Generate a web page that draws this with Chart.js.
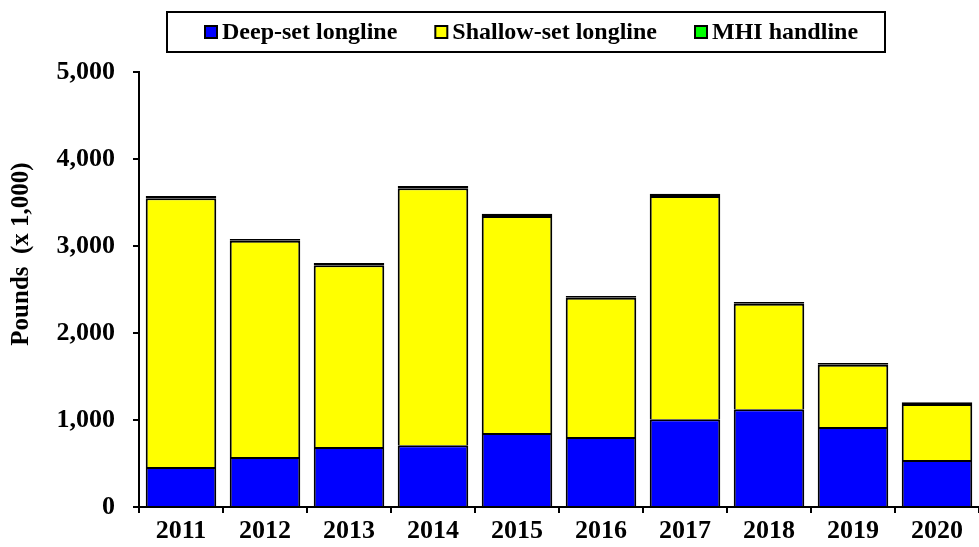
<!DOCTYPE html>
<html>
<head>
<meta charset="utf-8">
<script src="https://cdn.jsdelivr.net/npm/chart.js@4.4.0/dist/chart.umd.min.js"></script>
<style>
    body { margin: 0; background: #fff; }
    #wrap { width: 979px; height: 547px; position: relative; }
</style>
</head>
<body>
<div id="wrap"><canvas id="landingsChart"></canvas></div>
<script>
// Data (pounds x 1,000)
const years = ['2011', '2012', '2013', '2014', '2015', '2016', '2017', '2018', '2019', '2020'];
const deepSet = [460, 575, 690, 710, 850, 805, 1010, 1125, 920, 540];
const shallowSet = [3090, 2485, 2090, 2955, 2495, 1600, 2565, 1210, 715, 645];
const mhiHandline = [25, 20, 25, 25, 25, 20, 25, 20, 20, 20];
const yTicks = [0, 1000, 2000, 3000, 4000, 5000];

const serif = "'Liberation Serif', 'Times New Roman', serif";

// legend inside a bordered box, drawn by hand
const boxLegend = {
    id: 'boxLegend',
    afterDraw(chart) {
        const ctx = chart.ctx;
        ctx.save();
        ctx.lineWidth = 2;
        ctx.strokeStyle = '#000';
        ctx.strokeRect(167, 12, 718, 40);
        ctx.font = 'bold 24px ' + serif;
        ctx.textBaseline = 'middle';
        let x = 205;
        chart.data.datasets.forEach(ds => {
            ctx.fillStyle = ds.backgroundColor;
            ctx.fillRect(x, 26, 12, 12);
            ctx.strokeRect(x, 26, 12, 12);
            ctx.fillStyle = '#000';
            ctx.fillText(ds.label, x + 17, 33);
            x += 17 + ctx.measureText(ds.label).width + 38;
        });
        // y axis title
        ctx.translate(22, 254);
        ctx.rotate(-Math.PI / 2);
        ctx.textAlign = 'center';
        ctx.font = 'bold 25px ' + serif;
        ctx.fillText('Pounds  (x 1,000)', 0, 0);
        ctx.restore();
    }
};

const ctx = document.getElementById('landingsChart').getContext('2d');
const landingsChart = new Chart(ctx, {
    type: 'bar',
    data: {
        labels: years,
        datasets: [
            {
                label: 'Deep-set longline',
                data: deepSet,
                backgroundColor: '#0000FF'
            },
            {
                label: 'Shallow-set longline',
                data: shallowSet,
                backgroundColor: '#FFFF00'
            },
            {
                label: 'MHI handline',
                data: mhiHandline,
                backgroundColor: '#00FF00',
                borderSkipped: false // thin sliver, outline swallows it like in the original
            }
        ]
    },
    options: {
        responsive: true,
        maintainAspectRatio: false,
        animation: false,
        layout: { padding: { top: 72, right: 0, left: 0, bottom: 0 } },
        datasets: {
            bar: {
                borderColor: '#000',
                borderWidth: 2,
                borderSkipped: 'start',
                barPercentage: 0.84,
                categoryPercentage: 1.0
            }
        },
        scales: {
            x: {
                stacked: true,
                afterFit: s => { s.height = 40; },
                border: { color: '#000', width: 2 },
                grid: { drawOnChartArea: false, color: '#000', lineWidth: 2, tickLength: 6 },
                ticks: {
                    color: '#000',
                    padding: 3,
                    maxRotation: 0,
                    font: { family: serif, size: 26, weight: 'bold' }
                }
            },
            y: {
                stacked: true,
                min: 0,
                max: 5000,
                afterFit: s => { s.width = 139; },
                afterBuildTicks: s => { s.ticks = yTicks.map(v => ({ value: v })); },
                border: { color: '#000', width: 2 },
                grid: { drawOnChartArea: false, color: '#000', lineWidth: 2, tickLength: 6 },
                ticks: {
                    color: '#000',
                    padding: 18,
                    font: { family: serif, size: 26, weight: 'bold' },
                    callback: v => v.toLocaleString('en-US')
                }
            }
        },
        plugins: {
            legend: { display: false },
            tooltip: { enabled: false }
        }
    },
    plugins: [boxLegend]
});
</script>
</body>
</html>
